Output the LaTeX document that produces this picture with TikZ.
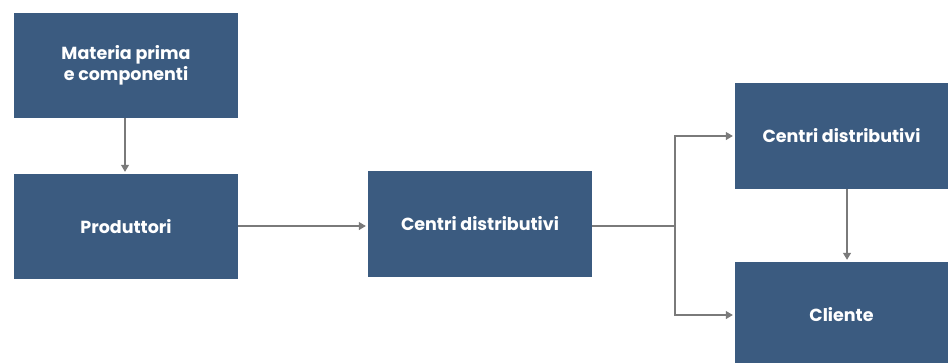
\documentclass[tikz,border=0pt]{standalone}
\usepackage{fontspec}
\setmainfont{Poppins}
\usetikzlibrary{arrows.meta}
\definecolor{boxblue}{HTML}{3B5B80}
\definecolor{linegray}{HTML}{7A7A7A}
\tikzset{
  box/.style={fill=boxblue, draw=none, text=white, font=\bfseries\fontsize{17.5}{21}\selectfont, align=center, inner sep=0pt},
  conn/.style={draw=linegray, line width=1.2pt, -{Triangle[length=7pt,width=8pt]}, shorten >=2pt},
  seg/.style={draw=linegray, line width=1.2pt}
}
\begin{document}
\begin{tikzpicture}[x=1pt,y=-1pt]
\useasboundingbox (0,0) rectangle (948,362);
\node[box, minimum width=224pt, minimum height=105pt] (mat) at (126,65.5) {Materia prima\\e componenti};
\node[box, minimum width=224pt, minimum height=105pt] (prod) at (126,226.5) {Produttori};
\node[box, minimum width=224pt, minimum height=106pt] (cd) at (480,224) {Centri distributivi};
\node[box, minimum width=213pt, minimum height=106pt] (cd2) at (841.5,136) {Centri distributivi};
\node[box, minimum width=213pt, minimum height=106pt] (cli) at (841.5,315) {Cliente};
\coordinate (br) at (675,226);
\draw[conn] (mat.south -| 125,0) -- (prod.north -| 125,0);
\draw[conn] (prod.east |- 0,226) -- (cd.west |- 0,226);
\draw[seg] (cd.east |- br) -- (br);
\draw[conn] (br) |- (cd2.west);
\draw[conn] (br) |- (cli.west);
\draw[conn] (cd2.south -| 847,0) -- (cli.north -| 847,0);
\end{tikzpicture}
\end{document}
